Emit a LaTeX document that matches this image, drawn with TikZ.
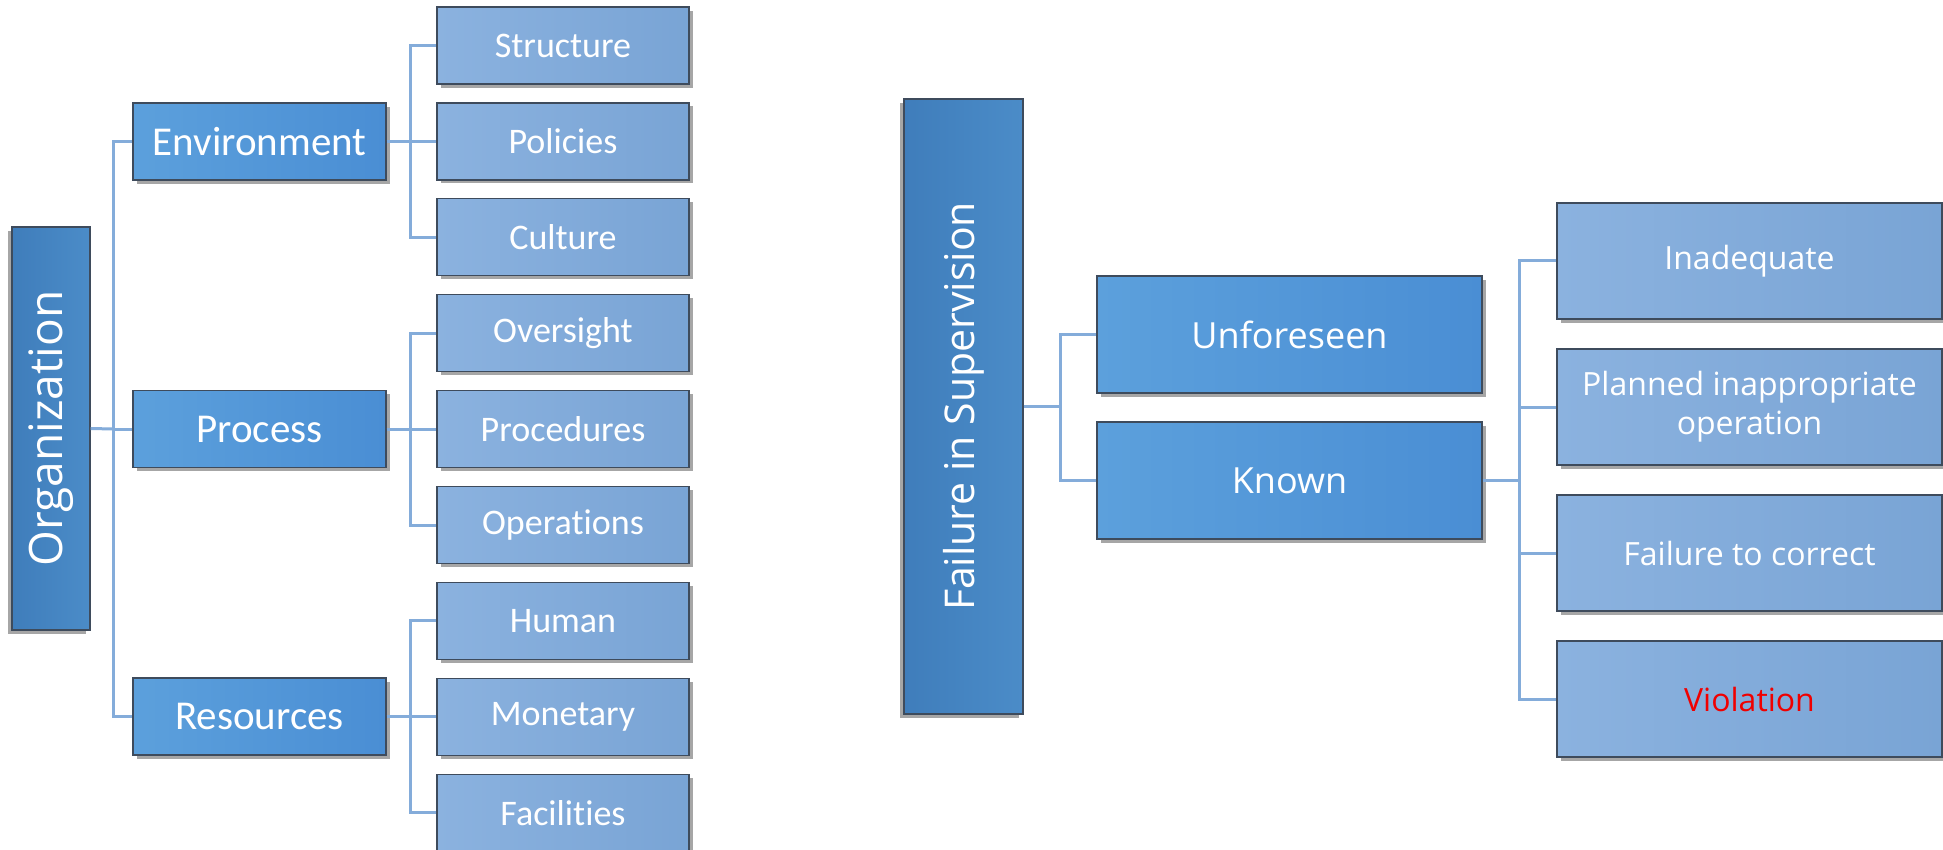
\documentclass[tikz,border=0pt]{standalone}
\usepackage{fontspec}
\setmainfont{Carlito}[Ligatures={NoCommon,NoContextual}]
\newfontfamily\osans{Open Sans}
\usetikzlibrary{shadows}
\definecolor{conncol}{HTML}{84ACDA}
\definecolor{bordcol}{HTML}{3E4B5C}
\definecolor{viol}{HTML}{F00000}
\definecolor{HTML4B8CC8}{HTML}{4B8CC8}
\definecolor{HTML3F7DBB}{HTML}{3F7DBB}
\definecolor{HTML5CA0DC}{HTML}{5CA0DC}
\definecolor{HTML4A8ED4}{HTML}{4A8ED4}
\definecolor{HTML8BB2DF}{HTML}{8BB2DF}
\definecolor{HTML79A4D5}{HTML}{79A4D5}
\tikzset{
  basebox/.style={draw=bordcol, line width=0.7pt, text=white, align=center, inner sep=2pt,
    drop shadow={shadow xshift=1.8pt, shadow yshift=-1.8pt, opacity=0.35, fill=black}},
  rootbox/.style={draw=bordcol, line width=0.7pt, text=white, align=center, inner sep=2pt,
    drop shadow={shadow xshift=-1.8pt, shadow yshift=-1.8pt, opacity=0.35, fill=black},
    left color=HTML3F7DBB, right color=HTML4B8CC8},
  midbox/.style={basebox, left color=HTML5CA0DC, right color=HTML4A8ED4},
  leafbox/.style={basebox, left color=HTML8BB2DF, right color=HTML79A4D5},
  conn/.style={draw=conncol, line width=1.5pt},
}
\begin{document}
\begin{tikzpicture}[x=0.5pt, y=-0.5pt]
\useasboundingbox (0,0) rectangle (1943,850);
\fill[white] (0,0) rectangle (1943,850);

% ---------- left tree ----------
\node[rootbox, minimum width=201.5pt, minimum height=39pt, rotate=90] (org) at (51,428.5)
  {\osans\fontsize{23}{27}\selectfont Organization};
\tikzset{lmid/.style={midbox, minimum width=126.5pt, minimum height=38.5pt, font=\fontsize{20.5}{24}\selectfont},
         lleaf/.style={leafbox, minimum width=126pt, minimum height=38.5pt, font=\fontsize{18}{22}\selectfont}}
\node[lmid] (env) at (259.5,141.5) {Environment};
\node[lmid] (proc) at (259.5,429) {Process};
\node[lmid] (res) at (259.5,716.5) {Resources};

\node[lleaf] (l1) at (563,45.5) {Structure};
\node[lleaf] (l2) at (563,141.4) {Policies};
\node[lleaf] (l3) at (563,237.3) {Culture};
\node[lleaf] (l4) at (563,333.2) {Oversight};
\node[lleaf] (l5) at (563,429.1) {Procedures};
\node[lleaf] (l6) at (563,525) {Operations};
\node[lleaf] (l7) at (563,620.9) {Human};
\node[lleaf] (l8) at (563,716.8) {Monetary};
\node[lleaf] (l9) at (563,812.7) {Facilities};

\coordinate (oj) at (113,429);
\coordinate (ej) at (410,141.5);
\coordinate (pj) at (410,429);
\coordinate (rj) at (410,716.5);
\draw[conn] (org.south) -- (oj);
\draw[conn] (oj) |- (env.west);
\draw[conn] (oj) |- (proc.west);
\draw[conn] (oj) |- (res.west);
\draw[conn] (env.east) -- (ej);
\draw[conn] (ej) |- (l1.west);
\draw[conn] (ej) |- (l2.west);
\draw[conn] (ej) |- (l3.west);
\draw[conn] (proc.east) -- (pj);
\draw[conn] (pj) |- (l4.west);
\draw[conn] (pj) |- (l5.west);
\draw[conn] (pj) |- (l6.west);
\draw[conn] (res.east) -- (rj);
\draw[conn] (rj) |- (l7.west);
\draw[conn] (rj) |- (l8.west);
\draw[conn] (rj) |- (l9.west);

% ---------- right tree ----------
\node[rootbox, minimum width=307.5pt, minimum height=59.5pt, rotate=90] (fis) at (963.5,406.5)
  {\osans\fontsize{20.5}{24}\selectfont Failure in Supervision};
\tikzset{rmid/.style={midbox, minimum width=192.5pt, minimum height=58.5pt, font=\osans\fontsize{18}{22}\selectfont},
         rleaf/.style={leafbox, minimum width=192.5pt, minimum height=58pt, font=\osans\fontsize{16}{19.5}\selectfont}}
\node[rmid] (unf) at (1289.5,334.5) {Unforeseen};
\node[rmid] (kno) at (1289.5,480.5) {Known};

\node[rleaf] (r1) at (1749.5,261) {Inadequate};
\node[rleaf] (r2) at (1749.5,407) {Planned inappropriate\\operation};
\node[rleaf] (r3) at (1749.5,553) {Failure to correct};
\node[rleaf, text=viol] (r4) at (1749.5,699) {Violation};

\coordinate (fj) at (1060,406.5);
\coordinate (kj) at (1519,480.5);
\draw[conn] (fis.south) -- (fj);
\draw[conn] (fj) |- (unf.west);
\draw[conn] (fj) |- (kno.west);
\draw[conn] (kno.east) -- (kj);
\draw[conn] (kj) |- (r1.west);
\draw[conn] (kj) |- (r2.west);
\draw[conn] (kj) |- (r3.west);
\draw[conn] (kj) |- (r4.west);
\end{tikzpicture}
\end{document}
